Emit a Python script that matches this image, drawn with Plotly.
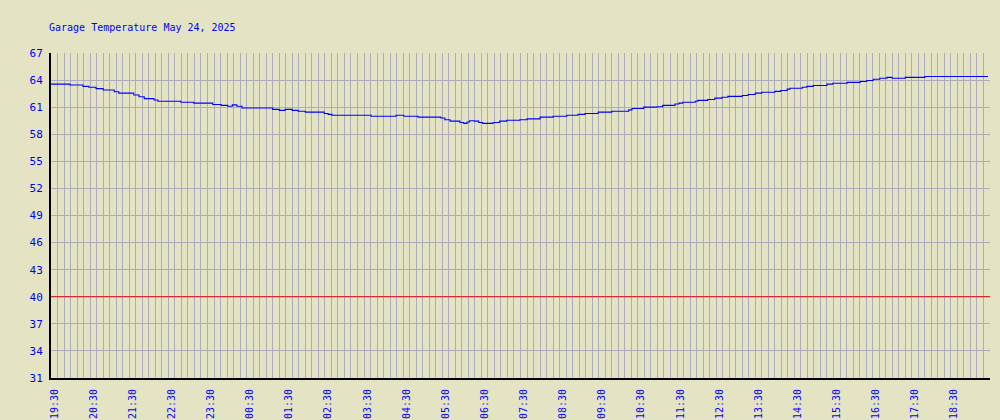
import plotly.graph_objects as go
import pandas as pd

TITLE = "Garage Temperature May 24, 2025"

# Reading times (start of each reading level) and garage temperature (°F)
times = [
    "2025-05-23 19:25", "2025-05-23 19:54", "2025-05-23 20:14", "2025-05-23 20:23",
    "2025-05-23 20:34", "2025-05-23 20:45", "2025-05-23 21:02", "2025-05-23 21:09",
    "2025-05-23 21:32", "2025-05-23 21:40", "2025-05-23 21:48", "2025-05-23 22:03",
    "2025-05-23 22:09", "2025-05-23 22:44", "2025-05-23 23:04", "2025-05-23 23:33",
    "2025-05-23 23:46", "2025-05-23 23:56", "2025-05-24 00:03", "2025-05-24 00:10",
    "2025-05-24 00:18", "2025-05-24 01:05", "2025-05-24 01:15", "2025-05-24 01:24",
    "2025-05-24 01:35", "2025-05-24 01:44", "2025-05-24 01:55", "2025-05-24 02:24",
    "2025-05-24 02:30", "2025-05-24 02:36", "2025-05-24 03:36", "2025-05-24 04:14",
    "2025-05-24 04:26", "2025-05-24 04:48", "2025-05-24 05:23", "2025-05-24 05:29",
    "2025-05-24 05:37", "2025-05-24 05:52", "2025-05-24 05:58", "2025-05-24 06:03",
    "2025-05-24 06:07", "2025-05-24 06:14", "2025-05-24 06:21", "2025-05-24 06:27",
    "2025-05-24 06:43", "2025-05-24 06:53", "2025-05-24 07:04", "2025-05-24 07:24",
    "2025-05-24 07:35", "2025-05-24 07:55", "2025-05-24 08:15", "2025-05-24 08:36",
    "2025-05-24 08:53", "2025-05-24 09:04", "2025-05-24 09:24", "2025-05-24 09:45",
    "2025-05-24 10:11", "2025-05-24 10:16", "2025-05-24 10:34", "2025-05-24 10:54",
    "2025-05-24 11:03", "2025-05-24 11:22", "2025-05-24 11:28", "2025-05-24 11:34",
    "2025-05-24 11:53", "2025-05-24 11:57", "2025-05-24 12:12", "2025-05-24 12:23",
    "2025-05-24 12:34", "2025-05-24 12:43", "2025-05-24 13:05", "2025-05-24 13:14",
    "2025-05-24 13:25", "2025-05-24 13:35", "2025-05-24 13:55", "2025-05-24 14:04",
    "2025-05-24 14:14", "2025-05-24 14:18", "2025-05-24 14:37", "2025-05-24 14:44",
    "2025-05-24 14:54", "2025-05-24 15:15", "2025-05-24 15:24", "2025-05-24 15:46",
    "2025-05-24 16:06", "2025-05-24 16:16", "2025-05-24 16:26", "2025-05-24 16:36",
    "2025-05-24 16:47", "2025-05-24 16:55", "2025-05-24 17:15", "2025-05-24 17:45",
    "2025-05-24 19:22",
]
temps = [
    63.55, 63.45, 63.3, 63.2,
    63.05, 62.9, 62.7, 62.55,
    62.35, 62.15, 61.95, 61.8,
    61.65, 61.55, 61.45, 61.3,
    61.2, 61.1, 61.25, 61.1,
    60.9, 60.75, 60.65, 60.75,
    60.65, 60.55, 60.45, 60.3,
    60.2, 60.1, 60.0, 60.1,
    60.0, 59.9, 59.8, 59.6,
    59.45, 59.3, 59.2, 59.35,
    59.5, 59.45, 59.3, 59.2,
    59.3, 59.45, 59.55, 59.6,
    59.7, 59.9, 60.0, 60.1,
    60.2, 60.3, 60.45, 60.55,
    60.7, 60.85, 61.0, 61.05,
    61.2, 61.35, 61.45, 61.55,
    61.65, 61.75, 61.85, 62.0,
    62.1, 62.2, 62.3, 62.4,
    62.55, 62.65, 62.75, 62.85,
    63.0, 63.1, 63.2, 63.3,
    63.4, 63.55, 63.65, 63.75,
    63.85, 63.95, 64.1, 64.2,
    64.3, 64.2, 64.3, 64.4,
    64.4,
]

X_START = "2025-05-23 19:25"
X_END = "2025-05-24 19:25"
FIRST_TICK = "2025-05-23 19:30"
TICK_LABELS = [
    "19:30", "20:30", "21:30", "22:30", "23:30", "00:30", "01:30", "02:30",
    "03:30", "04:30", "05:30", "06:30", "07:30", "08:30", "09:30", "10:30",
    "11:30", "12:30", "13:30", "14:30", "15:30", "16:30", "17:30", "18:30",
]
Y_MIN, Y_MAX, Y_STEP = 31, 67, 3
THRESHOLD = 40

tick_vals = pd.date_range(FIRST_TICK, periods=len(TICK_LABELS), freq="h")

BG = "#e4e4c4"
GRID = "#acacbc"
BLUE = "#0000ff"
FONT = "DejaVu Sans Mono"

fig = go.Figure()
fig.add_trace(go.Scatter(
    x=pd.to_datetime(times), y=temps, mode="lines",
    line=dict(color=BLUE, width=1.1, shape="hv"),
    hoverinfo="x+y", showlegend=False,
))
fig.add_hline(y=THRESHOLD, line=dict(color="#e00000", width=1.1), layer="above")

fig.update_layout(
    width=1000, height=420,
    paper_bgcolor=BG, plot_bgcolor=BG,
    margin=dict(l=51, r=10, t=53, b=42, autoexpand=False),
    title=dict(text=TITLE, x=0.049, xref="container", xanchor="left",
               y=1 - 27 / 420, yref="container", yanchor="middle",
               font=dict(family=FONT, size=10, color=BLUE)),
    showlegend=False,
)
fig.update_xaxes(
    type="date", range=[X_START, X_END], automargin=False,
    tickmode="array", tickvals=tick_vals, ticktext=TICK_LABELS,
    tickangle=-90, tickfont=dict(family=FONT, size=10, color=BLUE),
    showgrid=False, zeroline=False, ticks="", ticklabelstandoff=5,
    showline=True, linecolor="black", linewidth=2,
    minor=dict(tickmode="linear", tick0=X_START, dtick=600000,
               showgrid=True, gridcolor=GRID, gridwidth=1, ticks=""),
)
fig.update_yaxes(
    range=[Y_MIN, Y_MAX], tickmode="linear", tick0=Y_MIN, dtick=Y_STEP,
    automargin=False,
    tickfont=dict(family=FONT, size=11, color=BLUE),
    showgrid=True, gridcolor=GRID, gridwidth=1, zeroline=False,
    ticks="", ticklabelstandoff=4,
    showline=True, linecolor="black", linewidth=2,
)

fig.write_html(
    "out.html",
    config={"displayModeBar": False},
    post_script=(
        "document.body.style.margin='0';"
        "document.body.style.padding='0';"
        "document.body.style.background='" + BG + "';"
    ),
)
